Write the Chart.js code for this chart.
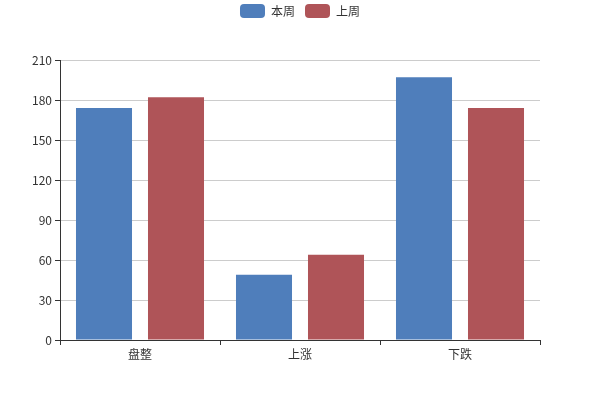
<!DOCTYPE html>
<html>
<head>
<meta charset="utf-8">
<script src="https://cdn.jsdelivr.net/npm/chart.js@4/dist/chart.umd.min.js"></script>
<style>
  html, body { margin: 0; padding: 0; background: #fff; }
  #wrap { width: 600px; height: 400px; }
</style>
</head>
<body>
<div id="wrap"><canvas id="barChart"></canvas></div>
<script>
// categories and series
var categories = ["盘整", "上涨", "下跌"];
var thisWeek = [174, 49, 197];
var lastWeek = [182, 64, 174];
var seriesNames = ["本周", "上周"];

var fontFamily = "'Microsoft YaHei', 'Noto Sans CJK SC', sans-serif";
Chart.defaults.font.family = fontFamily;
Chart.defaults.font.size = 12;
Chart.defaults.color = '#333';

// empty axes only used to reserve the blank margins above and right of the plot
var spacer = function (size, horizontal) {
    return {
        display: true,
        afterFit: function (scale) {
            if (horizontal) scale.height = size; else scale.width = size;
        },
        border: { display: false },
        grid: { display: false },
        ticks: { display: false }
    };
};

var ctxB = document.getElementById("barChart").getContext('2d');
var myBarChart = new Chart(ctxB, {
    type: 'bar',
    data: {
        labels: categories,
        datasets: [{
            label: seriesNames[0],
            data: thisWeek,
            backgroundColor: '#4f7ebb',
            borderWidth: 0,
            categoryPercentage: 0.9,
            barPercentage: 0.778
        }, {
            label: seriesNames[1],
            data: lastWeek,
            backgroundColor: '#af5458',
            borderWidth: 0,
            categoryPercentage: 0.9,
            barPercentage: 0.778
        }]
    },
    options: {
        responsive: true,
        maintainAspectRatio: false,
        animation: false,
        layout: {
            padding: { left: 0, right: 0, top: -6, bottom: 0 }
        },
        plugins: {
            legend: {
                position: 'top',
                labels: {
                    boxWidth: 25,
                    boxHeight: 14,
                    useBorderRadius: true,
                    borderRadius: 4,
                    padding: 10,
                    color: '#333',
                    font: { size: 12 }
                }
            },
            tooltip: { enabled: false }
        },
        scales: {
            x: {
                afterFit: function (scale) { scale.height = 60; },
                border: { color: '#333', width: 1 },
                grid: {
                    drawOnChartArea: false,
                    tickColor: '#333',
                    tickLength: 5
                },
                ticks: { color: '#333', padding: 2 }
            },
            xTop: Object.assign({ type: 'category', position: 'top', axis: 'x' }, spacer(32, true)),
            y: {
                min: 0,
                max: 210,
                afterFit: function (scale) { scale.width = 60; },
                border: { color: '#333', width: 1 },
                grid: {
                    color: '#ccc',
                    tickColor: '#333',
                    tickLength: 5
                },
                ticks: { stepSize: 30, color: '#333', padding: 3 }
            },
            yRight: Object.assign({ type: 'linear', position: 'right', axis: 'y' }, spacer(60, false))
        }
    }
});
</script>
</body>
</html>
